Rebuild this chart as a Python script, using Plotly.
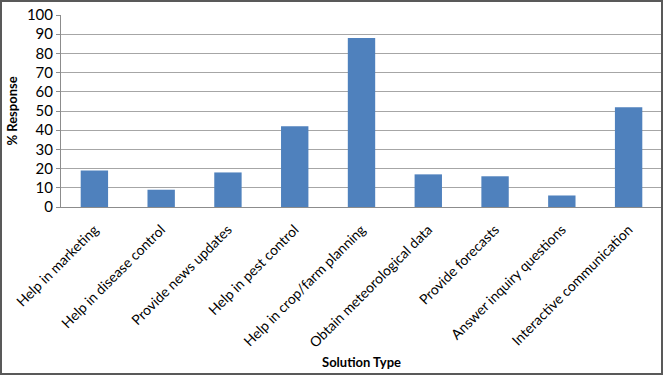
import plotly.graph_objects as go

categories = ["Help in marketing", "Help in disease control", "Provide news updates",
              "Help in pest control", "Help in crop/farm planning", "Obtain meteorological data",
              "Provide forecasts", "Answer inquiry questions", "Interactive communication"]
values = [19, 9, 18, 42, 88, 17, 16, 6, 52]
y_ticks = [0, 10, 20, 30, 40, 50, 60, 70, 80, 90, 100]

W, H = 663, 375
L, R, T, B = 61, 1, 15, 168
pw, ph = W - L - R, H - T - B

fig = go.Figure(go.Bar(x=categories, y=values, marker=dict(color="#4f81bd", line=dict(width=0)),
                       width=0.41))

fig.update_layout(
    width=W, height=H,
    margin=dict(l=L, r=R, t=T, b=B),
    paper_bgcolor="white", plot_bgcolor="white",
    font=dict(family="Lato, Carlito, sans-serif", size=13, color="#000"),
    showlegend=False,
    xaxis=dict(tickangle=-45, showline=True, linecolor="#8c8c8c", linewidth=1,
               ticks="", showgrid=False, tickfont=dict(size=14), ticklabelstandoff=8,
               title=dict(text="<b>Solution Type</b>", font=dict(size=13), standoff=8)),
    yaxis=dict(range=[0, 100], tickvals=y_ticks, showgrid=True, gridcolor="#a6a6a6", gridwidth=1,
               showline=True, linecolor="#8c8c8c", ticks="outside", ticklen=4, tickcolor="#8c8c8c",
               tickfont=dict(size=15),
               title=dict(text="<b>% Response</b>", font=dict(size=13), standoff=6),
               zeroline=False),
    shapes=[dict(type="rect", xref="paper", yref="paper",
                 x0=-(L - 1) / pw, x1=1 + (R - 1) / pw,
                 y0=-(B - 1) / ph, y1=1 + (T - 1) / ph,
                 line=dict(color="#595959", width=2), fillcolor="rgba(0,0,0,0)", layer="above")],
)

fig.write_html("out.html", config={"displayModeBar": False},
               post_script="document.body.style.margin='0';document.body.style.overflow='hidden';")
